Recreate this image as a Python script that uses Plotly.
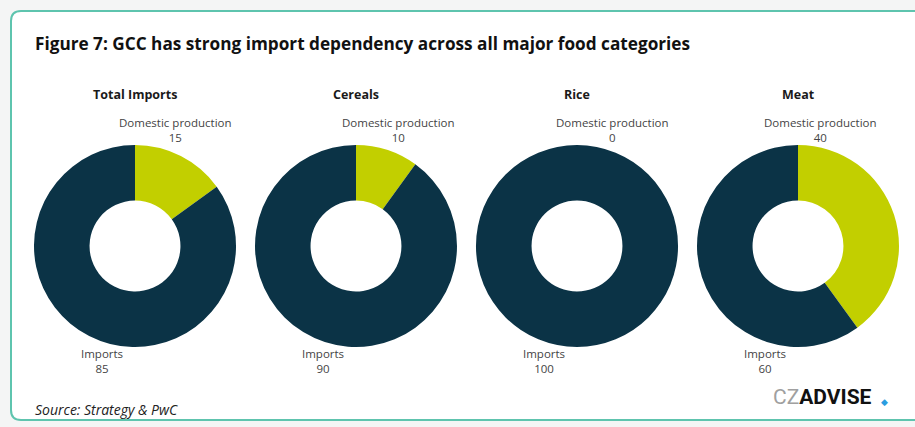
import plotly.graph_objects as go

W, H = 915, 427

categories = ["Total Imports", "Cereals", "Rice", "Meat"]
slice_labels = ["Domestic production", "Imports"]
domestic = [15, 10, 0, 40]
imports = [85, 90, 100, 60]

centers_x = [135, 356, 577, 798]
center_y = 246
radius = 101
dom_label_dx = [40, 42, 35, 22]
imp_label_dx = [-33, -33, -33, -33]

dark = "#0b3346"
lime = "#c2cf00"

fig = go.Figure()

for i, cat in enumerate(categories):
    cx = centers_x[i]
    x0, x1 = (cx - radius) / W, (cx + radius) / W
    y0, y1 = (H - (center_y + radius)) / H, (H - (center_y - radius)) / H
    fig.add_trace(go.Pie(
        labels=slice_labels,
        values=[domestic[i], imports[i]],
        hole=0.45,
        sort=False,
        direction="clockwise",
        rotation=0,
        marker=dict(colors=[lime, dark], line=dict(width=0)),
        textinfo="none",
        hoverinfo="label+value",
        showlegend=False,
        domain=dict(x=[x0, x1], y=[y0, y1]),
    ))
    # category title
    fig.add_annotation(x=cx / W, y=1 - 94 / H, xref="paper", yref="paper",
                       text="<b>" + cat + "</b>", showarrow=False,
                       font=dict(size=12.5, color="#1a1a1a", family="Open Sans"),
                       xanchor="center", yanchor="middle")
    fig.add_annotation(x=(cx + dom_label_dx[i]) / W, y=1 - 130 / H, xref="paper", yref="paper",
                       text=slice_labels[0] + "<br>" + str(domestic[i]), showarrow=False,
                       font=dict(size=11.5, color="#444444", family="Open Sans"),
                       xanchor="center", yanchor="middle", align="center")
    fig.add_annotation(x=(cx + imp_label_dx[i]) / W, y=1 - 361 / H, xref="paper", yref="paper",
                       text=slice_labels[1] + "<br>" + str(imports[i]), showarrow=False,
                       font=dict(size=11.5, color="#444444", family="Open Sans"),
                       xanchor="center", yanchor="middle", align="center")

# frame
r = 10
x0, y0, x1, y1 = 11, 11, 930, 420
path = (f"M {x0+r},{y0} L {x1-r},{y0} Q {x1},{y0} {x1},{y0+r} L {x1},{y1-r} Q {x1},{y1} {x1-r},{y1} "
        f"L {x0+r},{y1} Q {x0},{y1} {x0},{y1-r} L {x0},{y0+r} Q {x0},{y0} {x0+r},{y0} Z")
fig.add_shape(type="path", path=path, xref="x", yref="y", layer="below",
              fillcolor="white", line=dict(color="#5ec4ae", width=2))

fig.add_annotation(x=33, y=43, xref="x", yref="y",
                   text="<b>Figure 7: GCC has strong import dependency across all major food categories</b>",
                   showarrow=False, xanchor="left", yanchor="middle",
                   font=dict(size=17.2, color="#111111", family="Open Sans"))
fig.add_annotation(x=33, y=409, xref="x", yref="y",
                   text="<i>Source: Strategy & PwC</i>", showarrow=False,
                   xanchor="left", yanchor="middle",
                   font=dict(size=14, color="#222222", family="Open Sans"))
fig.add_annotation(x=874, y=397, xref="x", yref="y",
                   text="<span style='color:#a0a0a0'>CZ</span><b>ADVISE</b>",
                   showarrow=False, xanchor="right", yanchor="middle",
                   font=dict(size=21, color="#111111", family="Roboto"))
fig.add_annotation(x=884, y=401, xref="x", yref="y",
                   text="◆", showarrow=False, xanchor="center", yanchor="middle",
                   font=dict(size=9, color="#2a9de0"))

fig.update_xaxes(range=[0, W], visible=False, fixedrange=True)
fig.update_yaxes(range=[H, 0], visible=False, fixedrange=True)

fig.update_layout(
    width=W, height=H,
    margin=dict(l=0, r=0, t=0, b=0),
    paper_bgcolor="#f4f5f5",
    plot_bgcolor="rgba(0,0,0,0)",
    xaxis=dict(domain=[0, 1]), yaxis=dict(domain=[0, 1]),
)

fig.write_html("out.html")
